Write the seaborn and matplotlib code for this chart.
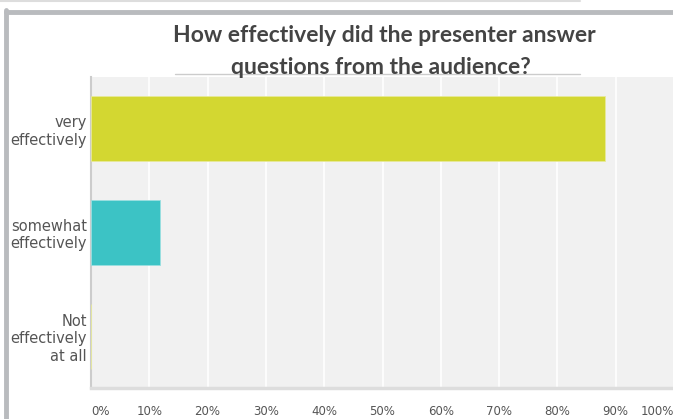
import pandas as pd
import matplotlib.pyplot as plt
import matplotlib.lines as mlines
import seaborn as sns

answers = ["very\neffectively", "somewhat\neffectively", "Not\neffectively\nat all"]
percent = [88.2, 11.8, 0.0]
bar_colors = ["#d3d731", "#3cc3c5", "#9b9b9b"]
tick_vals = [0, 10, 20, 30, 40, 50, 60, 70, 80, 90, 100]
tick_labels = [f"{v}%" for v in tick_vals]

sns.set_theme(style="white")
plt.rcParams['font.family'] = ['DejaVu Sans']

df = pd.DataFrame({"answer": answers, "percent": percent})

fig = plt.figure(figsize=(6.73, 4.19), dpi=100)
ax = fig.add_axes([91 / 673, 1 - 388 / 419, 583 / 673, 311 / 419])
ax.set_facecolor("#f1f1f1")

sns.barplot(data=df, x="percent", y="answer", hue="answer", palette=bar_colors,
            saturation=1, orient="h", width=0.63, legend=False, ax=ax,
            edgecolor="#e8ea9a", linewidth=0.6, zorder=3)
ax.patches[1].set_edgecolor("#9adfe0")

ax.set_xlim(0, 100)
ax.set_xticks(tick_vals)
ax.set_xticklabels(tick_labels, fontsize=8.5, color="#555555")
labs = ax.get_xticklabels()
labs[0].set_ha("left")
labs[0].set_x(1.5)
labs[-1].set_ha("right")
ax.tick_params(axis="x", length=0, pad=12)
ax.tick_params(axis="y", length=0, pad=3)
for t in ax.get_yticklabels():
    t.set_fontsize(10.5)
    t.set_color("#555555")
    t.set_ha("right")
    t.set_multialignment("right")
ax.set_xlabel("")
ax.set_ylabel("")
ax.grid(axis="x", color="white", linewidth=1.2, zorder=0)
ax.set_axisbelow(True)
for s in ["top", "right"]:
    ax.spines[s].set_visible(False)
ax.spines["left"].set_color("#cccccc")
ax.spines["left"].set_linewidth(1.5)
ax.spines["bottom"].set_color("#dddddd")
ax.spines["bottom"].set_linewidth(2.5)

fig.text(384 / 673, 1 - 35 / 419, "How effectively did the presenter answer",
         ha="center", va="center", fontsize=16.5, fontweight="bold", color="#444444",
         family="Lato")
fig.text(381 / 673, 1 - 67 / 419, "questions from the audience?",
         ha="center", va="center", fontsize=16.5, fontweight="bold", color="#444444",
         family="Lato")

# title underline and outer frame of the screenshot
fig.add_artist(mlines.Line2D([175 / 673, 580 / 673], [1 - 74 / 419] * 2,
                             color="#cccccc", lw=1, transform=fig.transFigure))
fig.add_artist(mlines.Line2D([0, 580 / 673], [1 - 1 / 419] * 2,
                             color="#dddddd", lw=1.5, transform=fig.transFigure))
fig.add_artist(mlines.Line2D([6 / 673, 1], [1 - 12 / 419] * 2,
                             color="#b9bbbe", lw=3.5, transform=fig.transFigure))
fig.add_artist(mlines.Line2D([6 / 673] * 2, [0, 1 - 10 / 419],
                             color="#b9bbbe", lw=3.5, transform=fig.transFigure))

fig.savefig("out.png", dpi=100)
